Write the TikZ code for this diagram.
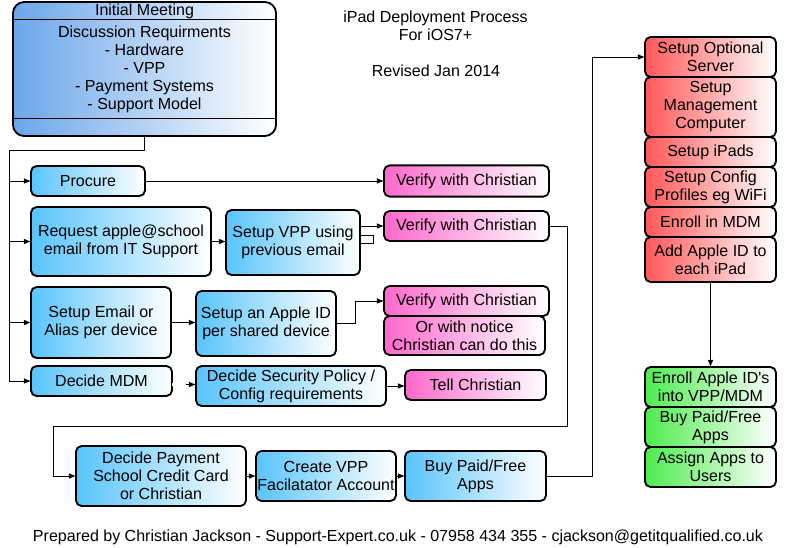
\documentclass[tikz,border=0pt]{standalone}
\usepackage{fontspec}
\setmainfont{Liberation Sans}
\usetikzlibrary{arrows.meta,positioning}

\definecolor{meetblue}{RGB}{108,166,234}
\definecolor{stepblue}{RGB}{88,196,250}
\definecolor{checkpink}{RGB}{255,104,204}
\definecolor{setupred}{RGB}{255,88,88}
\definecolor{appgreen}{RGB}{78,236,78}

\newcommand{\boxfont}{\fontsize{11.4}{12.8}\selectfont}

\tikzset{
  txt/.style={align=center, inner sep=0pt, font=\boxfont},
  box/.style={draw, line width=1.3pt, rounded corners=4pt, align=center, inner sep=1pt, outer sep=0pt, right color=white, font=\boxfont},
  bluebox/.style={box, left color=stepblue, right color=white},
  pinkbox/.style={box, left color=checkpink, right color=white},
  redbox/.style={box, left color=setupred, right color=white, minimum width=3.275cm},
  greenbox/.style={box, left color=appgreen, right color=white, minimum width=3.275cm},
  wire/.style={line width=0.6pt},
  arr/.style={wire, -{Latex[length=5pt,width=4pt]}},
}

\begin{document}
\begin{tikzpicture}[x=0.025cm, y=-0.025cm]
  \useasboundingbox (0,0) rectangle (796,547);

  % initial meeting
  \node[box, rounded corners=8pt, left color=meetblue, right color=white, minimum width=6.575cm, minimum height=3.35cm] (meeting) at (144.5,69) {};
  \draw[line width=0.7pt] (meeting.west |- 0,19) -- (meeting.east |- 0,19);
  \draw[line width=0.7pt] (meeting.west |- 0,118) -- (meeting.east |- 0,118);
  \node[txt] (meetingtitle) at (144.5,11) {Initial Meeting};
  \node[txt] (meetingbody) at (144.5,69.5) {Discussion Requirments\\- Hardware\\- VPP\\- Payment Systems\\- Support Model};

  \node[txt] (title) at (435.5,26) {iPad Deployment Process\\For iOS7+};
  \node[txt] (revised) at (436,71) {Revised Jan 2014};

  % blue steps
  \node[bluebox, minimum width=2.85cm, minimum height=0.75cm] (procure) at (88,181) {Procure};
  \node[bluebox, minimum width=4.5cm, minimum height=1.725cm] (request) at (121,241.5) {Request apple@school\\email from IT Support};
  \node[bluebox, minimum width=3.35cm, minimum height=1.625cm] (setvpp) at (293,242.5) {Setup VPP using\\previous email};
  \node[bluebox, minimum width=3.5cm, minimum height=1.775cm] (setemail) at (101,322.5) {Setup Email or\\Alias per device};
  \node[bluebox, minimum width=3.5cm, minimum height=1.625cm] (setappleid) at (266,323.5) {Setup an Apple ID\\per shared device};
  \node[bluebox, minimum width=3.525cm, minimum height=0.75cm] (mdm) at (101.5,381) {Decide MDM};
  \node[bluebox, minimum width=4.75cm, minimum height=1cm] (secpolicy) at (291,386) {Decide Security Policy /\\Config requirements};
  \node[bluebox, minimum width=4.25cm, minimum height=1.5cm] (payment) at (161,476) {Decide Payment\\School Credit Card\\or Christian};
  \node[bluebox, minimum width=3.5cm, minimum height=1.25cm] (facil) at (326,476) {Create VPP\\Facilatator Account};
  \node[bluebox, minimum width=3.525cm, minimum height=1.25cm] (buyapps) at (475.5,476) {Buy Paid/Free\\Apps};

  % pink checks
  \node[pinkbox, minimum width=4.125cm, minimum height=0.78cm] (verifya) at (466.5,181) {Verify with Christian};
  \node[pinkbox, minimum width=4.125cm, minimum height=0.75cm] (verifyb) at (466.5,226) {Verify with Christian};
  \node[pinkbox, minimum width=4.125cm, minimum height=0.75cm] (verifyc) at (466.5,301) {Verify with Christian};
  \node[pinkbox, minimum width=4.025cm, minimum height=0.975cm] (notice) at (464.5,335.5) {Or with notice\\Christian can do this};
  \node[pinkbox, minimum width=3.525cm, minimum height=0.75cm] (tell) at (475.5,385) {Tell Christian};

  % red setup column
  \node[redbox, minimum height=1cm] (server) at (710.5,57) {Setup Optional\\Server};
  \node[redbox, minimum height=1.5cm, below=0pt of server] (mgmt) {Setup\\Management\\Computer};
  \node[redbox, minimum height=0.75cm, below=0pt of mgmt] (ipads) {Setup iPads};
  \node[redbox, minimum height=1cm, below=0pt of ipads] (config) {Setup Config\\Profiles eg WiFi};
  \node[redbox, minimum height=0.75cm, below=0pt of config] (enroll) {Enroll in MDM};
  \node[redbox, minimum height=1.125cm, below=0pt of enroll] (addid) {Add Apple ID to\\each iPad};

  % green app column
  \node[greenbox, minimum height=1cm] (enrollid) at (710.5,387) {Enroll Apple ID\textquotesingle s\\into VPP/MDM};
  \node[greenbox, minimum height=1cm, below=0pt of enrollid] (buypaid) {Buy Paid/Free\\Apps};
  \node[greenbox, minimum height=1cm, below=0pt of buypaid] (assign) {Assign Apps to\\Users};

  % connectors
  \coordinate (trunk) at (9,381);
  \draw[wire] (meeting.south) -- ++(0,14) -| (trunk);
  \draw[arr] (trunk |- procure) -- (procure.west);
  \draw[arr] (trunk |- request) -- (request.west);
  \draw[arr] (trunk |- setemail) -- (setemail.west);
  \draw[arr] (trunk) -- (mdm.west);

  \draw[arr] (procure.east) -- (verifya.west);
  \draw[arr] (request.east) -- (request.east -| setvpp.west);
  \draw[arr] (setvpp.east |- verifyb) -- (verifyb.west);
  \draw[wire] (setvpp.east |- 0,235) -- ++(13,0) -- ++(0,8) -- ++(-13,0);
  \draw[arr] (setemail.east) -- (setemail.east -| setappleid.west);
  \draw[arr] (setappleid.east) -- ++(19,0) |- (verifyc.west);
  \draw[wire, double, double distance=1.6pt] (mdm.east |- 0,384.5) -- ++(14,0) coordinate (dbl);
  \draw[arr] (dbl) -- (dbl -| secpolicy.west);
  \draw[arr] (secpolicy.east) -- (secpolicy.east -| tell.west);

  \draw[arr] (verifyb.east) -- ++(18,0) |- (53,426) |- (payment.west);
  \draw[arr] (payment.east) -- (facil.west);
  \draw[arr] (facil.east) -- (buyapps.west);
  \draw[arr] (buyapps.east) -- ++(46,0) |- (server.west);
  \draw[arr] (addid.south) -- (enrollid.north);

  \node[txt] (footer) at (398,537) {Prepared by Christian Jackson - Support-Expert.co.uk - 07958 434 355 - cjackson@getitqualified.co.uk};
\end{tikzpicture}
\end{document}
